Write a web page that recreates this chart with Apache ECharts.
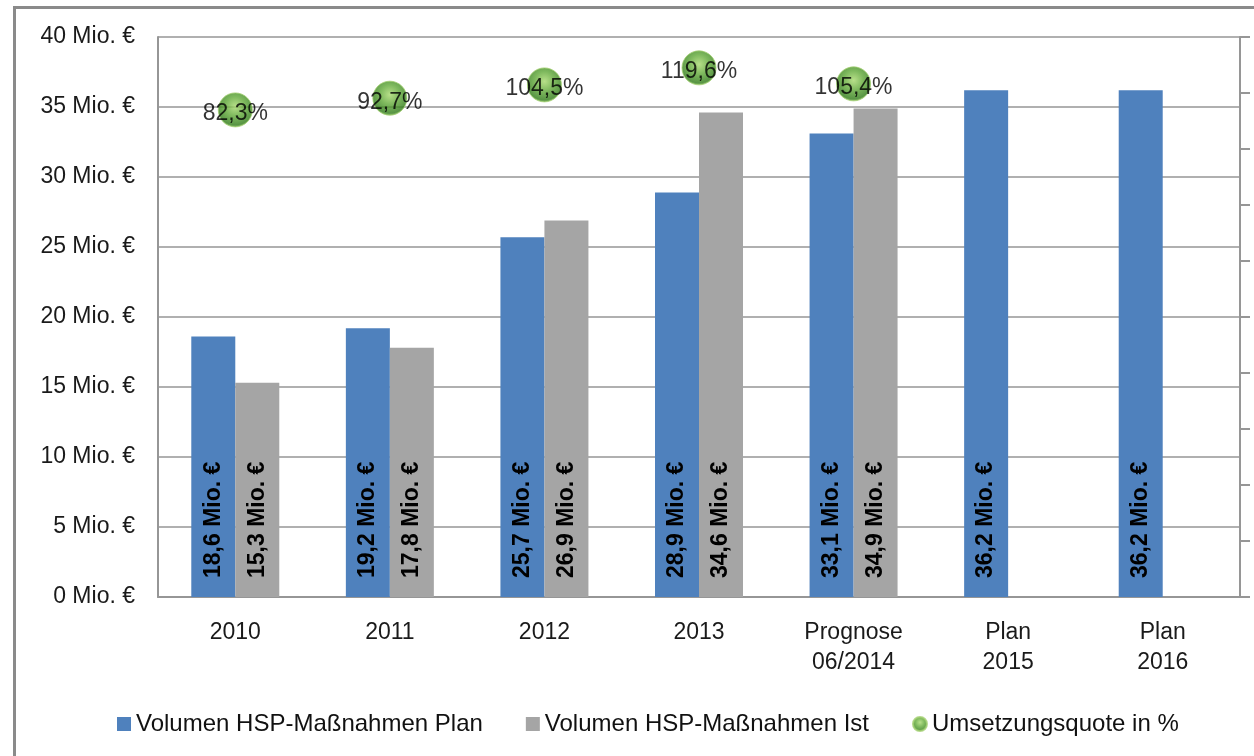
<!DOCTYPE html>
<html>
<head>
<meta charset="utf-8">
<script src="https://cdn.jsdelivr.net/npm/echarts@6/dist/echarts.min.js"></script>
<style>
  html, body { margin: 0; padding: 0; background: #fff; }
  #chart { position: absolute; left: 0; top: 0; width: 1254px; height: 756px; }
  #frame {
    position: absolute; left: 13px; top: 6px; width: 1300px; height: 800px;
    border: 3px solid #8a8a8a; pointer-events: none;
  }
</style>
</head>
<body>
<div id="chart"></div>
<div id="frame"></div>
<script>
// Kategorien und Werte
const categories = ['2010', '2011', '2012', '2013', 'Prognose\n06/2014', 'Plan\n2015', 'Plan\n2016'];
const planValues = [18.6, 19.2, 25.7, 28.9, 33.1, 36.2, 36.2];
const istValues = [15.3, 17.8, 26.9, 34.6, 34.9, null, null];
const quoteValues = [82.3, 92.7, 104.5, 119.6, 105.4, null, null];

const FONT = "'Liberation Sans', Arial, sans-serif";
const GRID_COLOR = '#969696';

const fmt = (v) => v.toFixed(1).replace('.', ',');

const chart = echarts.init(document.getElementById('chart'));

const barLabel = {
  show: true,
  position: 'insideBottom',
  rotate: 90,
  align: 'left',
  verticalAlign: 'middle',
  distance: 19,
  color: '#000',
  fontFamily: FONT,
  fontWeight: 'bold',
  fontSize: 23,
  formatter: (p) => fmt(p.value) + ' Mio. €'
};

const option = {
  animation: false,
  textStyle: { fontFamily: FONT },
  grid: { left: 158, right: 14, top: 37, bottom: 159 },
  legend: {
    left: 117,
    top: 712,
    padding: 0,
    itemWidth: 14,
    itemHeight: 14,
    itemGap: 43,
    textStyle: { fontFamily: FONT, fontSize: 24, color: '#111' },
    data: [
      { name: 'Volumen HSP-Maßnahmen Plan', icon: 'rect' },
      { name: 'Volumen HSP-Maßnahmen Ist', icon: 'rect' },
      { name: 'Umsetzungsquote in %', icon: 'circle' }
    ]
  },
  xAxis: {
    type: 'category',
    data: categories,
    axisTick: { show: false },
    axisLine: { lineStyle: { color: GRID_COLOR, width: 2 } },
    axisLabel: {
      color: '#1a1a1a',
      fontFamily: FONT,
      fontSize: 23,
      lineHeight: 30,
      margin: 21,
      interval: 0
    }
  },
  yAxis: [
    {
      type: 'value',
      min: 0,
      max: 40,
      interval: 5,
      axisLine: { show: true, lineStyle: { color: GRID_COLOR, width: 2 } },
      axisTick: { show: false },
      splitLine: { lineStyle: { color: GRID_COLOR, width: 1.5 } },
      axisLabel: {
        color: '#1a1a1a',
        fontFamily: FONT,
        fontSize: 23,
        margin: 23,
        formatter: '{value} Mio. €'
      }
    },
    {
      // rechte Achse nur mit Teilstrichen
      type: 'value',
      position: 'right',
      min: 0,
      max: 10,
      interval: 1,
      axisLine: { show: true, lineStyle: { color: GRID_COLOR, width: 2 } },
      axisTick: { show: true, inside: false, length: 10, lineStyle: { color: GRID_COLOR, width: 2 } },
      axisLabel: { show: false },
      splitLine: { show: false }
    },
    {
      type: 'value',
      show: false,
      min: -350,
      max: 147,
      splitLine: { show: false }
    }
  ],
  series: [
    {
      name: 'Volumen HSP-Maßnahmen Plan',
      type: 'bar',
      data: planValues,
      barWidth: 44,
      barGap: '0%',
      itemStyle: { color: '#4F81BD' },
      label: barLabel
    },
    {
      name: 'Volumen HSP-Maßnahmen Ist',
      type: 'bar',
      data: istValues,
      barWidth: 44,
      barGap: '0%',
      itemStyle: { color: '#A5A5A5' },
      label: barLabel
    },
    {
      name: 'Umsetzungsquote in %',
      type: 'scatter',
      yAxisIndex: 2,
      data: quoteValues,
      symbolSize: 34,
      z: 5,
      itemStyle: {
        color: new echarts.graphic.RadialGradient(0.5, 0.4, 0.62, [
          { offset: 0, color: '#a6d86c' },
          { offset: 0.45, color: '#5ea735' },
          { offset: 0.85, color: '#2f7b16' },
          { offset: 1, color: '#8cc45a' }
        ]),
        borderColor: '#a3cf70',
        borderWidth: 1
      },
      label: {
        show: true,
        position: 'inside',
        offset: [0, 4],
        color: '#000',
        textBorderWidth: 0,
        fontFamily: FONT,
        fontSize: 23,
        formatter: (p) => fmt(p.value) + '%'
      }
    }
  ]
};

chart.setOption(option);
</script>
</body>
</html>
